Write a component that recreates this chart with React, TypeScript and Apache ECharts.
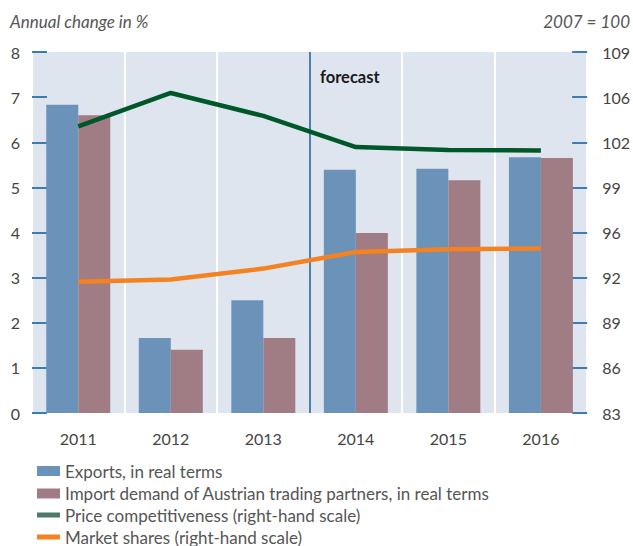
import React, { useEffect, useRef } from "react";
import * as echarts from "echarts";

const years = ["2011", "2012", "2013", "2014", "2015", "2016"];
const exportsReal = [6.83, 1.66, 2.5, 5.39, 5.41, 5.67];
const importDemand = [6.6, 1.4, 1.66, 3.99, 5.16, 5.65];
const priceCompetitiveness = [103.65, 106.05, 104.4, 102.15, 101.95, 101.9];
const marketShares = [92.45, 92.62, 93.4, 94.6, 94.8, 94.85];
const leftTicks = ["0", "1", "2", "3", "4", "5", "6", "7", "8"];
const rightTicks = ["83", "86", "89", "92", "96", "99", "102", "106", "109"];
const rightMin = 83;
const rightMax = 109;

const FONT = "Lato";
const toRight = (v: number) => ((v - rightMin) / (rightMax - rightMin)) * 8;

export default function App() {
  const ref = useRef<HTMLDivElement>(null);
  useEffect(() => {
    if (!ref.current) return;
    const chart = echarts.init(ref.current, null, { renderer: "svg" });
    const tickColor = "#3d7cb0";
    const splitColors = ["#ffffff", "#ffffff", "#ffffff", "#4a7fb0", "#ffffff", "#ffffff", "#ffffff"];
    const legendText = { fontSize: 17, color: "#555555", lineHeight: 20, fontFamily: FONT };
    chart.setOption({
      animation: false,
      textStyle: { fontFamily: FONT },
      grid: {
        left: 32,
        right: 42,
        top: 52,
        bottom: 133,
        show: true,
        backgroundColor: "#dfe5ee",
        borderWidth: 0,
      },
      graphic: [
        {
          type: "text",
          left: 10,
          top: 13,
          style: {
            text: "Annual change in %",
            font: `italic 17px ${FONT}`,
            fill: "#555555",
          },
        },
        {
          type: "text",
          right: 3,
          top: 13,
          style: {
            text: "2007 = 100",
            font: `italic 17px ${FONT}`,
            fill: "#555555",
          },
        },
        {
          type: "text",
          left: 320,
          top: 68,
          z: 10,
          style: {
            text: "forecast",
            font: `bold 16.5px ${FONT}`,
            fill: "#1a1a1a",
          },
        },
      ],
      legend: [
        {
          orient: "vertical",
          left: 32,
          top: 456,
          height: 60,
          itemWidth: 23,
          itemHeight: 10,
          itemGap: 2.5,
          itemTextGap: 10,
          icon: "rect",
          textStyle: legendText,
          data: ["Exports, in real terms", "Import demand of Austrian trading partners, in real terms"],
        },
        {
          orient: "vertical",
          left: 32,
          top: 500,
          height: 60,
          itemWidth: 23,
          itemHeight: 5,
          itemGap: 2,
          itemTextGap: 10,
          icon: "rect",
          textStyle: legendText,
          data: [
            { name: "Price competitiveness (right-hand scale)", itemStyle: { color: "#4d7a6c" } },
            { name: "Market shares (right-hand scale)", itemStyle: { color: "#f58220" } },
          ],
        },
      ],
      xAxis: {
        type: "category",
        data: years,
        axisLine: { show: false },
        axisTick: { show: false },
        axisLabel: { color: "#444444", fontSize: 16, margin: 17, fontFamily: FONT },
        splitLine: { show: true, lineStyle: { color: splitColors, width: 2 } },
      },
      yAxis: [
        {
          type: "value",
          min: 0,
          max: 8,
          interval: 1,
          axisLine: { show: false },
          axisTick: { show: true, inside: true, length: 15, lineStyle: { color: tickColor, width: 2 } },
          axisLabel: {
            color: "#444444",
            fontSize: 16,
            margin: 12,
            fontFamily: FONT,
            formatter: (v: number) => leftTicks[Math.round(v)],
          },
          splitLine: { show: false },
        },
        {
          type: "value",
          min: 0,
          max: 8,
          interval: 1,
          position: "right",
          axisLine: { show: false },
          axisTick: { show: true, inside: true, length: 15, lineStyle: { color: tickColor, width: 2 } },
          axisLabel: {
            color: "#444444",
            fontSize: 16,
            margin: 15,
            fontFamily: FONT,
            formatter: (v: number) => rightTicks[Math.round(v)],
          },
          splitLine: { show: false },
        },
      ],
      series: [
        {
          name: "Exports, in real terms",
          type: "bar",
          data: exportsReal,
          barWidth: 32,
          barGap: "0%",
          itemStyle: { color: "#6b93b9" },
        },
        {
          name: "Import demand of Austrian trading partners, in real terms",
          type: "bar",
          data: importDemand,
          barWidth: 32,
          barGap: "0%",
          itemStyle: { color: "#a07c84" },
        },
        {
          name: "Price competitiveness (right-hand scale)",
          type: "line",
          yAxisIndex: 1,
          data: priceCompetitiveness.map(toRight),
          symbol: "none",
          lineStyle: { color: "#00582a", width: 4.5 },
          itemStyle: { color: "#00582a" },
          z: 5,
        },
        {
          name: "Market shares (right-hand scale)",
          type: "line",
          yAxisIndex: 1,
          data: marketShares.map(toRight),
          symbol: "none",
          lineStyle: { color: "#f58220", width: 4.5 },
          itemStyle: { color: "#f58220" },
          z: 5,
        },
      ],
    });
    return () => chart.dispose();
  }, []);
  return <div ref={ref} style={{ width: 633, height: 546, position: "absolute", left: 0, top: 0 }} />;
}
